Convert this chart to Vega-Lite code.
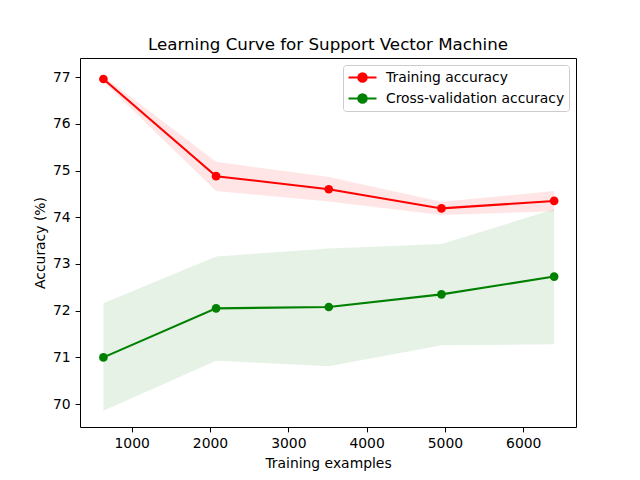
{
  "$schema": "https://vega.github.io/schema/vega-lite/v6.json",
  "autosize": "none",
  "width": 496,
  "height": 369,
  "padding": {"left": 80, "top": 58, "right": 64, "bottom": 53},
  "background": "white",
  "config": {
    "font": "DejaVu Sans",
    "view": {"stroke": "black", "strokeWidth": 1},
    "axis": {
      "grid": false, "domain": false,
      "labelFont": "DejaVu Sans", "labelFontSize": 13.9, "labelColor": "black",
      "titleFont": "DejaVu Sans", "titleFontSize": 13.9, "titleColor": "black", "titleFontWeight": "normal",
      "tickColor": "black", "tickSize": 4.9, "tickWidth": 1, "labelPadding": 4.9
    },
    "legend": {
      "orient": "top-right", "offset": 7,
      "padding": 4, "cornerRadius": 3, "strokeColor": "#cccccc", "fillColor": "rgba(255,255,255,0.8)",
      "labelFont": "DejaVu Sans", "labelFontSize": 13.9, "labelColor": "black", "labelLimit": 400,
      "symbolSize": 196, "symbolStrokeWidth": 2.08, "symbolOffset": 7,
      "labelOffset": 15, "rowPadding": 4
    }
  },
  "title": {
    "text": "Learning Curve for Support Vector Machine",
    "font": "DejaVu Sans", "fontSize": 16.7, "fontWeight": "normal", "color": "black",
    "anchor": "middle", "baseline": "alphabetic", "offset": -9
  },
  "data": {
    "values": [
      {"size": 639, "series": "Training accuracy", "mean": 76.96, "lower": 76.9, "upper": 77.02},
      {"size": 2078, "series": "Training accuracy", "mean": 74.88, "lower": 74.56, "upper": 75.19},
      {"size": 3517, "series": "Training accuracy", "mean": 74.6, "lower": 74.34, "upper": 74.86},
      {"size": 4956, "series": "Training accuracy", "mean": 74.19, "lower": 74.05, "upper": 74.33},
      {"size": 6395, "series": "Training accuracy", "mean": 74.35, "lower": 74.13, "upper": 74.56},
      {"size": 639, "series": "Cross-validation accuracy", "mean": 71.0, "lower": 69.86, "upper": 72.16},
      {"size": 2078, "series": "Cross-validation accuracy", "mean": 72.05, "lower": 70.93, "upper": 73.16},
      {"size": 3517, "series": "Cross-validation accuracy", "mean": 72.08, "lower": 70.81, "upper": 73.33},
      {"size": 4956, "series": "Cross-validation accuracy", "mean": 72.35, "lower": 71.26, "upper": 73.43},
      {"size": 6395, "series": "Cross-validation accuracy", "mean": 72.73, "lower": 71.28, "upper": 74.17}
    ]
  },
  "encoding": {
    "x": {
      "field": "size", "type": "quantitative",
      "scale": {"domain": [340, 6674], "nice": false, "zero": false},
      "axis": {"title": "Training examples", "values": [1000, 2000, 3000, 4000, 5000, 6000], "format": "d", "titlePadding": 6}
    }
  },
  "layer": [
    {
      "mark": {"type": "area", "opacity": 0.1},
      "encoding": {
        "y": {"field": "lower", "type": "quantitative"},
        "y2": {"field": "upper"},
        "color": {"field": "series", "type": "nominal",
          "scale": {"domain": ["Training accuracy", "Cross-validation accuracy"], "range": ["#ff0000", "#008000"]}}
      }
    },
    {
      "mark": {"type": "line", "strokeWidth": 2.08},
      "encoding": {
        "y": {
          "field": "mean", "type": "quantitative",
          "scale": {"domain": [69.51, 77.41], "nice": false, "zero": false},
          "axis": {"title": "Accuracy (%)", "values": [70, 71, 72, 73, 74, 75, 76, 77], "titlePadding": 5}
        },
        "color": {
          "field": "series", "type": "nominal",
          "scale": {"domain": ["Training accuracy", "Cross-validation accuracy"], "range": ["#ff0000", "#008000"]},
          "legend": {
            "title": null,
            "symbolType": "M-2,0L2,0M0.6,0A0.6,0.6,0,1,1,-0.6,0A0.6,0.6,0,1,1,0.6,0Z",
            "symbolOpacity": 1,
            "encode": {"symbols": {"update": {"fill": {"scale": "color", "field": "value"}, "stroke": {"scale": "color", "field": "value"}, "opacity": {"value": 1}, "fillOpacity": {"value": 1}}}}
          }
        }
      }
    },
    {
      "mark": {"type": "point", "filled": true, "opacity": 1, "size": 75, "shape": "circle"},
      "encoding": {
        "y": {"field": "mean", "type": "quantitative"},
        "color": {"field": "series", "type": "nominal",
          "scale": {"domain": ["Training accuracy", "Cross-validation accuracy"], "range": ["#ff0000", "#008000"]}}
      }
    }
  ]
}
